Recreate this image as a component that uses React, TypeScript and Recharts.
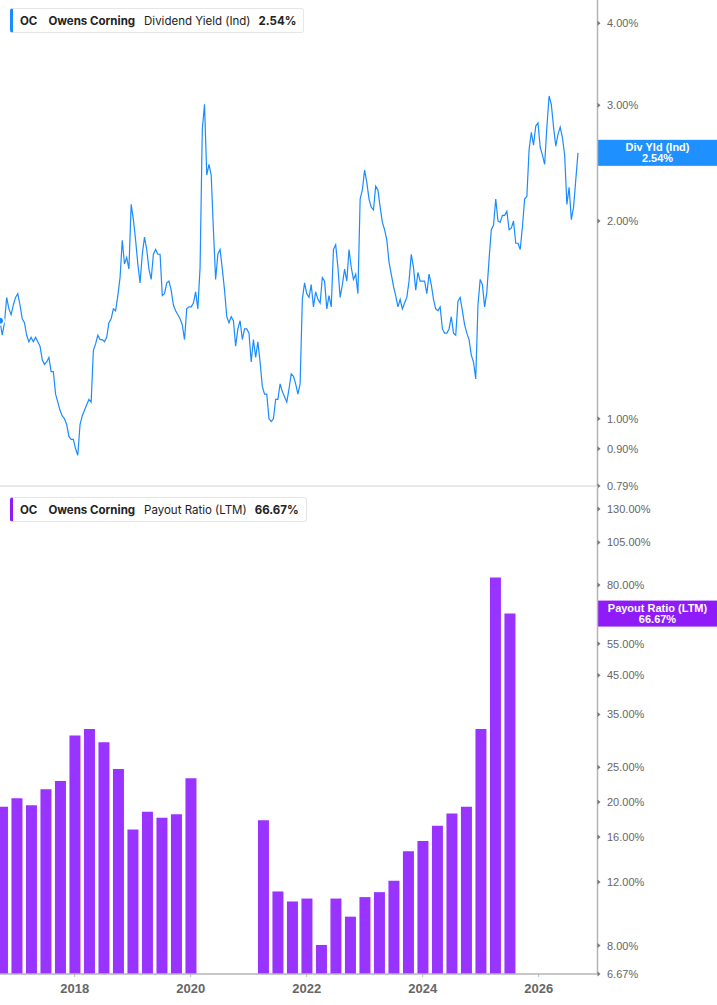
import React from 'react'
import { LineChart, Line, BarChart, Bar, XAxis, YAxis, ReferenceLine } from 'recharts'

// dividend yield (ind), %, sampled every two weeks from mid-Sep 2016
const yieldStart = 2016.712
const yieldStep = 14 / 365.25
const yieldValues = [
  1.41, 1.34, 1.40, 1.53, 1.47, 1.44, 1.49, 1.53, 1.55, 1.49,
  1.42, 1.40, 1.34, 1.31, 1.33, 1.31, 1.33, 1.31, 1.29, 1.23,
  1.21, 1.22, 1.24, 1.18, 1.18, 1.09, 1.06, 1.03, 1.01, 1.00,
  0.98, 0.94, 0.93, 0.93, 0.90, 0.88, 0.98, 1.01, 1.03, 1.05,
  1.07, 1.06, 1.27, 1.30, 1.34, 1.32, 1.32, 1.31, 1.33, 1.40,
  1.42, 1.47, 1.46, 1.54, 1.64, 1.87, 1.72, 1.76, 1.69, 2.12,
  2.01, 1.87, 1.72, 1.61, 1.78, 1.89, 1.81, 1.69, 1.63, 1.78,
  1.81, 1.78, 1.78, 1.54, 1.55, 1.61, 1.62, 1.57, 1.49, 1.46,
  1.44, 1.42, 1.39, 1.32, 1.47, 1.48, 1.48, 1.50, 1.56, 1.47,
  1.70, 2.76, 3.01, 2.35, 2.44, 2.35, 1.94, 1.63, 1.78, 1.81,
  1.69, 1.57, 1.43, 1.40, 1.43, 1.41, 1.29, 1.37, 1.41, 1.32,
  1.37, 1.37, 1.35, 1.22, 1.32, 1.24, 1.31, 1.22, 1.12, 1.09,
  1.09, 1.00, 0.99, 1.00, 1.07, 1.07, 1.13, 1.10, 1.08, 1.06,
  1.11, 1.17, 1.16, 1.13, 1.09, 1.13, 1.52, 1.61, 1.55, 1.53,
  1.60, 1.48, 1.56, 1.52, 1.50, 1.64, 1.62, 1.47, 1.54, 1.48,
  1.81, 1.84, 1.70, 1.53, 1.60, 1.69, 1.62, 1.81, 1.70, 1.63,
  1.66, 1.55, 2.16, 2.23, 2.39, 2.29, 2.16, 2.10, 2.08, 2.26,
  2.23, 2.10, 1.99, 1.94, 1.87, 1.73, 1.66, 1.59, 1.54, 1.48,
  1.52, 1.47, 1.50, 1.53, 1.62, 1.78, 1.70, 1.57, 1.67, 1.62,
  1.62, 1.62, 1.55, 1.66, 1.60, 1.52, 1.47, 1.46, 1.48, 1.37,
  1.35, 1.35, 1.37, 1.43, 1.35, 1.34, 1.51, 1.53, 1.46, 1.39,
  1.35, 1.32, 1.25, 1.22, 1.15, 1.49, 1.63, 1.60, 1.48, 1.56,
  1.75, 1.94, 1.97, 2.16, 2.00, 1.99, 2.04, 2.04, 2.07, 1.94,
  1.95, 2.00, 1.85, 1.85, 1.81, 1.96, 2.16, 2.18, 2.57, 2.73,
  2.61, 2.79, 2.82, 2.59, 2.52, 2.44, 2.78, 3.10, 3.01, 2.78,
  2.60, 2.71, 2.78, 2.68, 2.52, 2.12, 2.25, 2.01, 2.10, 2.31,
  2.54,
]

// payout ratio (LTM), %, quarterly
const payoutQuarters = [
  2016.75, 2017.0, 2017.25, 2017.5, 2017.75, 2018.0, 2018.25, 2018.5,
  2018.75, 2019.0, 2019.25, 2019.5, 2019.75, 2020.0,
  2021.25, 2021.5, 2021.75, 2022.0, 2022.25, 2022.5, 2022.75, 2023.0,
  2023.25, 2023.5, 2023.75, 2024.0, 2024.25, 2024.5, 2024.75, 2025.0,
  2025.25, 2025.5,
]
const payoutValues = [
  19.4, 20.5, 19.6, 21.7, 22.9, 30.6, 31.9, 29.3,
  24.7, 16.8, 18.8, 18.1, 18.5, 23.3,
  17.8, 11.3, 10.6, 10.8, 8.03, 10.8, 9.62, 10.9,
  11.25, 12.1, 14.6, 15.6, 17.2, 18.6, 19.4, 31.9,
  83.9, 66.67,
]

const yearTicks = [2018, 2020, 2022, 2024, 2026]
const yieldTicks = [0.79, 0.9, 1, 2, 3, 4]
const payoutTicks = [6.67, 8, 12, 16, 20, 25, 35, 45, 55, 80, 105, 130]

const lastYield = 2.54
const lastPayout = 66.67

const xDomain = [2016.712, 2027.014]
const blue = '#1a8cff'
const purple = '#9933ff'
const axisGray = '#b4b4b4'
const axisFont = '"Liberation Sans", Arial, sans-serif'

const yieldData = yieldValues.map((v, i) => ({ t: yieldStart + i * yieldStep, v }))
const payoutData = payoutQuarters.map((t, i) => ({ t, v: payoutValues[i] }))

function YTick({ x, y, payload }: any) {
  return (
    <g>
      <path d={`M${x},${y - 2.5} L${x + 3},${y} L${x},${y + 2.5} Z`} fill="#777" />
      <text x={x + 9.5} y={y + 4} fontSize={11} fill="#666" fontFamily={axisFont}>
        {payload.value.toFixed(2)}%
      </text>
    </g>
  )
}

function XTick({ x, y, payload }: any) {
  return (
    <text x={x} y={y + 16} textAnchor="middle" fontSize={13} fontWeight={700} fill="#666" fontFamily={axisFont}>
      {payload.value}
    </text>
  )
}

function tag(fill: string, title: string, value: string) {
  return ({ viewBox }: any) => {
    const left = viewBox.x + viewBox.width
    const y = viewBox.y
    return (
      <g>
        <rect x={left} y={y - 13} width={120} height={26} fill={fill} />
        <text x={left + 60} y={y - 2} textAnchor="middle" fill="#fff" fontSize={11} fontWeight={700} fontFamily={axisFont}>
          {title}
        </text>
        <text x={left + 60} y={y + 9.5} textAnchor="middle" fill="#fff" fontSize={11} fontWeight={700} fontFamily={axisFont}>
          {value}
        </text>
      </g>
    )
  }
}

function LegendBox({ top, color, metric, value }: { top: number; color: string; metric: string; value: string }) {
  return (
    <div
      style={{
        position: 'absolute',
        left: 10,
        top,
        height: 23,
        display: 'flex',
        alignItems: 'center',
        background: '#fff',
        border: '1px solid #e6e6e6',
        borderLeft: `3px solid ${color}`,
        borderRadius: 3,
        padding: '0 7px 0 7px',
        fontFamily: 'Inter, sans-serif',
        fontSize: 11.5,
        color: '#222',
        whiteSpace: 'nowrap',
      }}
    >
      <span style={{ fontWeight: 700, marginRight: 11 }}>OC</span>
      <span style={{ fontWeight: 700, marginRight: 9 }}>Owens Corning</span>
      <span style={{ marginRight: 8 }}>{metric}</span>
      <span style={{ fontWeight: 700 }}>{value}</span>
    </div>
  )
}

export default function App() {
  return (
    <div style={{ position: 'relative', width: 717, height: 1005, background: '#fff' }}>
      <style>{'body{margin:0}'}</style>

      <LineChart width={717} height={497} data={yieldData} margin={{ top: 0, right: 0, bottom: 10, left: 0 }}>
        <XAxis
          dataKey="t"
          type="number"
          domain={xDomain}
          allowDataOverflow
          height={1}
          tick={false}
          tickLine={false}
          axisLine={{ stroke: '#d2d2d2', strokeWidth: 1 }}
        />
        <YAxis
          orientation="right"
          type="number"
          scale="log"
          domain={[0.79, 4.34]}
          allowDataOverflow
          ticks={yieldTicks}
          width={119.5}
          tickLine={false}
          tickSize={0}
          tickMargin={0}
          tick={<YTick />}
          axisLine={{ stroke: axisGray, strokeWidth: 1.5 }}
        />
        <Line
          dataKey="v"
          type="linear"
          stroke={blue}
          strokeWidth={1.2}
          dot={false}
          isAnimationActive={false}
        />
        <ReferenceLine y={lastYield} stroke="none" label={tag('#1e90ff', 'Div Yld (Ind)', `${lastYield.toFixed(2)}%`)} />
      </LineChart>

      <div style={{ position: 'absolute', left: 0, top: 487 }}>
        <BarChart width={717} height={518} data={payoutData} margin={{ top: 1, right: 0, bottom: 0, left: 0 }}>
          <XAxis
            dataKey="t"
            type="number"
            domain={xDomain}
            allowDataOverflow
            ticks={yearTicks}
            height={31}
            tickSize={3}
            tickMargin={0}
            tickLine={{ stroke: axisGray }}
            tick={<XTick />}
            axisLine={{ stroke: axisGray, strokeWidth: 1.5 }}
          />
          <YAxis
            orientation="right"
            type="number"
            scale="log"
            domain={[6.67, 148.7]}
            allowDataOverflow
            ticks={payoutTicks}
            width={119.5}
            tickLine={false}
            tickSize={0}
            tickMargin={0}
            tick={<YTick />}
            axisLine={{ stroke: axisGray, strokeWidth: 1.5 }}
          />
          <Bar dataKey="v" fill={purple} barSize={11} isAnimationActive={false} />
          <ReferenceLine y={lastPayout} stroke="none" label={tag('#8f1cf8', 'Payout Ratio (LTM)', `${lastPayout.toFixed(2)}%`)} />
        </BarChart>
      </div>

      <LegendBox top={8} color={blue} metric="Dividend Yield (Ind)" value={`${lastYield.toFixed(2)}%`} />
      <LegendBox top={497} color="#8f1cf8" metric="Payout Ratio (LTM)" value={`${lastPayout.toFixed(2)}%`} />
    </div>
  )
}
